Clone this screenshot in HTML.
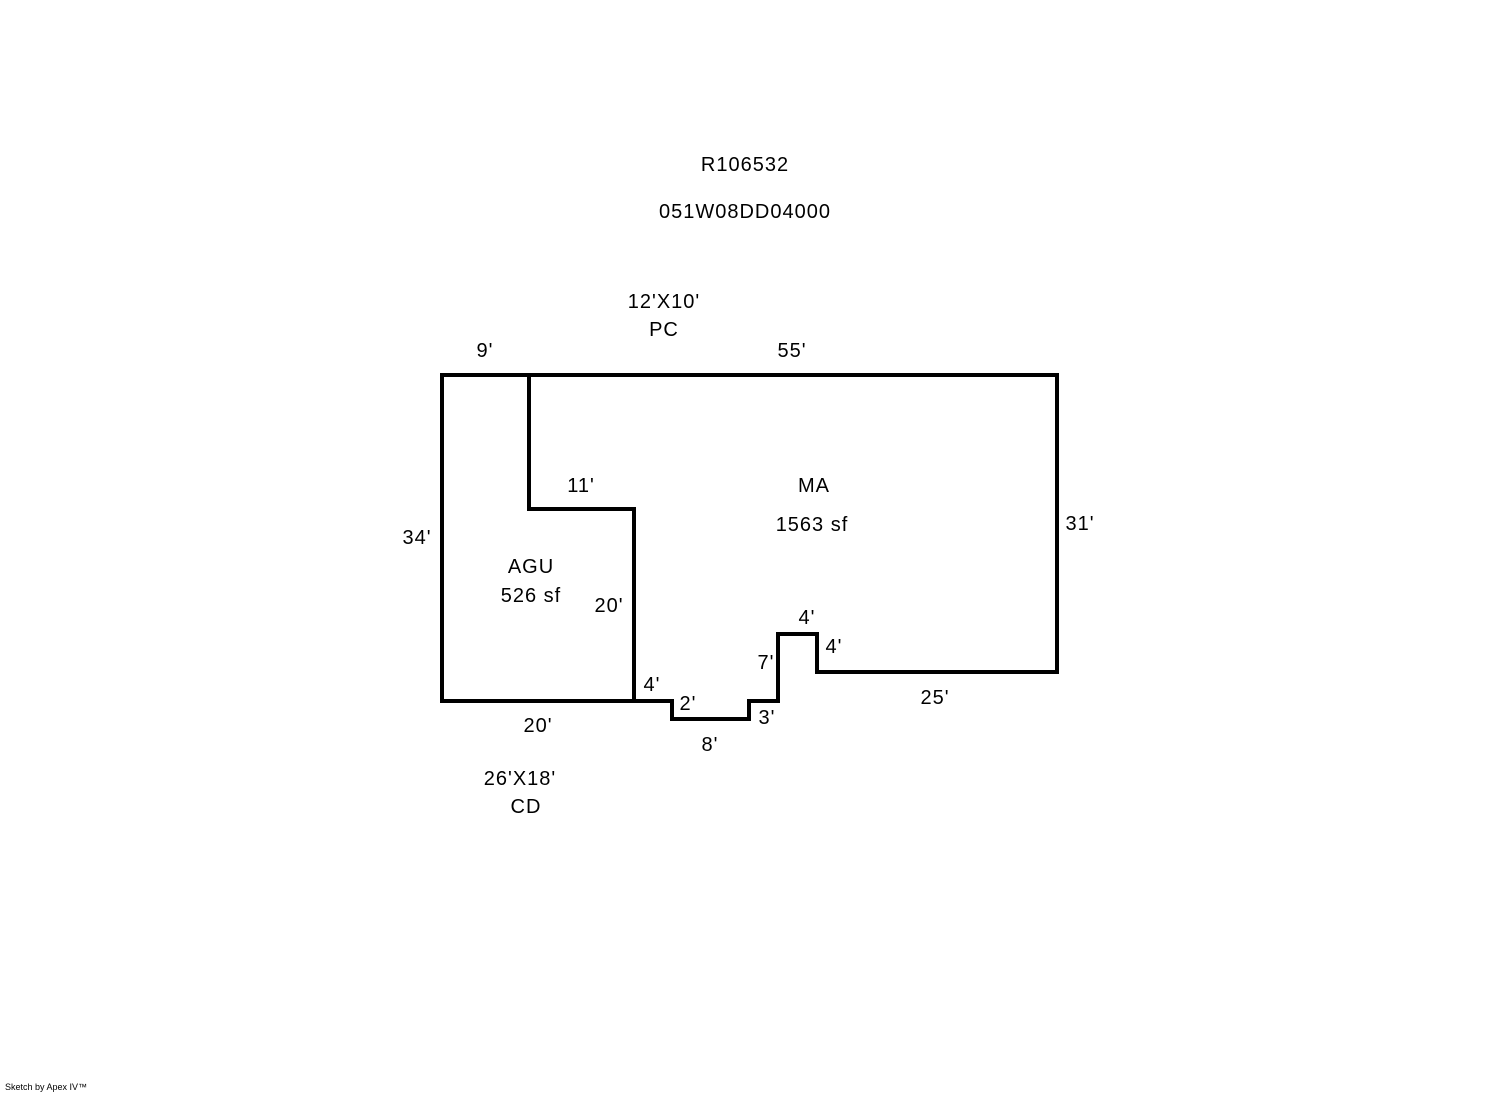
<!DOCTYPE html>
<html><head><style>html,body{margin:0;padding:0;background:#fff}</style></head>
<body>
<svg width="1492" height="1094" xmlns="http://www.w3.org/2000/svg" style="display:block">
<g fill="none" stroke="#000" stroke-width="4" stroke-linejoin="miter" stroke-linecap="square">
<path d="M442,375 L1057,375 L1057,672 L817,672 L817,634 L778,634 L778,701 L749,701 L749,719 L672,719 L672,701 L442,701 Z"/>
<path d="M529,375 L529,509 L634,509 L634,701"/>
</g>
<g font-family="Liberation Sans, Arial, sans-serif" font-size="20" fill="#000" text-anchor="middle" letter-spacing="1">
<text x="745" y="171">R106532</text>
<text x="745" y="218">051W08DD04000</text>
<text x="664" y="308">12'X10'</text>
<text x="664" y="336">PC</text>
<text x="485" y="357">9'</text>
<text x="792" y="357">55'</text>
<text x="581" y="492">11'</text>
<text x="814" y="492">MA</text>
<text x="812" y="531">1563 sf</text>
<text x="417" y="544">34'</text>
<text x="1080" y="530">31'</text>
<text x="531" y="573">AGU</text>
<text x="531" y="602">526 sf</text>
<text x="609" y="612">20'</text>
<text x="807" y="624">4'</text>
<text x="834" y="653">4'</text>
<text x="766" y="669">7'</text>
<text x="652" y="691">4'</text>
<text x="688" y="710">2'</text>
<text x="767" y="724">3'</text>
<text x="935" y="704">25'</text>
<text x="538" y="732">20'</text>
<text x="710" y="751">8'</text>
<text x="520" y="785">26'X18'</text>
<text x="526" y="813">CD</text>
</g>
<text x="5" y="1090" font-family="Liberation Sans, Arial, sans-serif" font-size="9" fill="#000">Sketch by Apex IV™</text>
</svg>
</body></html>
